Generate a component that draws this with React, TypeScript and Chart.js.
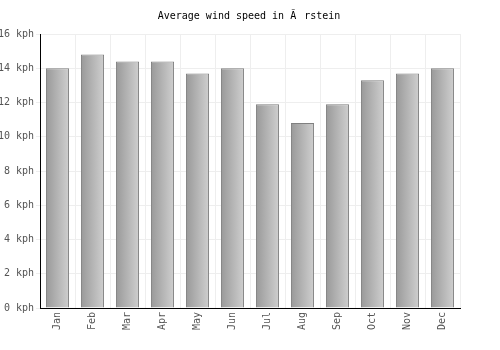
import React, { useEffect, useRef } from "react";
import { Chart, registerables } from "chart.js";

Chart.register(...registerables);

const months = ["Jan", "Feb", "Mar", "Apr", "May", "Jun", "Jul", "Aug", "Sep", "Oct", "Nov", "Dec"];
const windSpeed = [14.0, 14.8, 14.4, 14.4, 13.7, 14.0, 11.9, 10.8, 11.9, 13.3, 13.7, 14.0];
const titleText = "Average wind speed in Ã\u0098rstein";
const unit = " kph";

const FONT = "'DejaVu Sans Mono', monospace";
const BAR_PCT = 0.66;

export default function App() {
  const ref = useRef<HTMLCanvasElement | null>(null);
  useEffect(() => {
    const canvas = ref.current!;
    const titlePlugin = {
      id: "customTitle",
      afterDraw(chart: any) {
        const c = chart.ctx;
        c.save();
        c.font = `10px ${FONT}`;
        c.fillStyle = "#000";
        c.textAlign = "center";
        c.textBaseline = "middle";
        c.fillText(titleText, 249, 16);
        c.restore();
      },
    };
    const chart = new Chart(canvas, {
      type: "bar",
      data: {
        labels: months,
        datasets: [
          {
            data: windSpeed,
            borderColor: "#808080",
            borderWidth: 1,
            barPercentage: BAR_PCT,
            categoryPercentage: 1,
            backgroundColor: (ctx: any) => {
              const chart = ctx.chart;
              const xs = chart.scales?.x;
              if (!xs || !chart.chartArea) return "#b0b0b0";
              const cx = xs.getPixelForValue(ctx.dataIndex);
              const cw = (chart.chartArea.right - chart.chartArea.left) / months.length;
              const w = cw * BAR_PCT;
              const g = chart.ctx.createLinearGradient(cx - w / 2, 0, cx + w / 2, 0);
              g.addColorStop(0, "#999999");
              g.addColorStop(1, "#cfcfcf");
              return g;
            },
          },
        ],
      },
      options: {
        animation: false,
        responsive: false,
        maintainAspectRatio: false,
        layout: { padding: { top: 34, right: 40, left: 0, bottom: 0 } },
        plugins: {
          legend: { display: false },
          title: { display: false },
          tooltip: { enabled: false },
        },
        scales: {
          x: {
            afterFit: (s: any) => {
              s.height = 42;
            },
            grid: { color: "#eeeeee", offset: true, tickLength: 0 },
            border: { color: "#000", width: 1 },
            ticks: {
              maxRotation: 90,
              minRotation: 90,
              color: "#555",
              padding: 4,
              font: { family: FONT, size: 10 },
            },
          },
          y: {
            min: 0,
            max: 16,
            afterFit: (s: any) => {
              s.width = 40;
            },
            grid: { color: "#eeeeee", tickLength: 4 },
            border: { color: "#000", width: 1 },
            ticks: {
              stepSize: 2,
              color: "#555",
              padding: 2,
              font: { family: FONT, size: 10 },
              callback: (v: any) => `${v}${unit}`,
            },
          },
        },
      },
      plugins: [titlePlugin],
    });
    return () => chart.destroy();
  }, []);
  return (
    <div style={{ position: "fixed", left: 0, top: 0, width: 500, height: 350, background: "#fff" }}>
      <canvas ref={ref} width={500} height={350} style={{ width: 500, height: 350 }} />
    </div>
  );
}
